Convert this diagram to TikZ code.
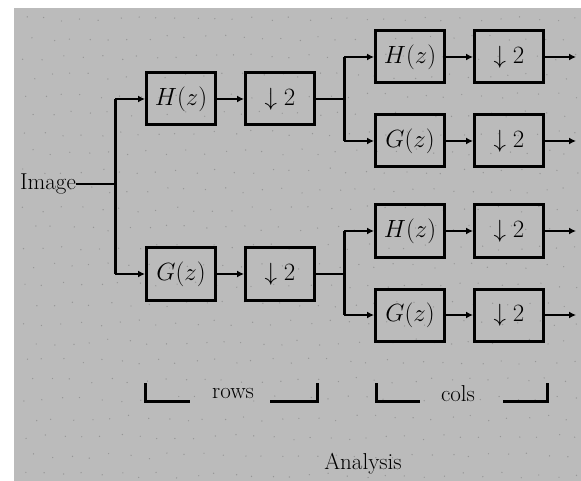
\documentclass[tikz,border=0pt]{standalone}
\usetikzlibrary{arrows.meta}
\definecolor{bggray}{RGB}{187,187,187}
\definecolor{dotgray}{RGB}{150,150,150}
\begin{document}
\begin{tikzpicture}[x=1pt,y=-1pt,
  blk/.style={draw, line width=3pt, minimum width=69pt, minimum height=52pt, inner sep=0pt, font=\fontsize{23}{26}\selectfont},
  lbl/.style={inner sep=0pt, font=\fontsize{23}{26}\selectfont},
  bus/.style={line width=3pt},
  conn/.style={line width=1.8pt},
  arr/.style={line width=1.8pt, -{Latex[length=7pt,width=7pt]}},
  brk/.style={line width=3pt}]
\useasboundingbox (0,0) rectangle (581,481);
\fill[white] (0,0) rectangle (581,481);
\fill[bggray] (14,8) rectangle (581,481);
\pgfmathsetseed{7}
\foreach \i in {0,...,29} {
  \foreach \j in {0,...,24} {
    \pgfmathsetmacro{\px}{22+\i*19+mod(\j,2)*9+rnd*6}
    \pgfmathsetmacro{\py}{16+\j*19+rnd*6}
    \fill[dotgray] (\px,\py) circle (0.7);
  }
}
% first stage (rows)
\node[lbl] (img) at (48,184) {Image};
\coordinate (s1) at (115,184);
\node[blk] (H1) at (181,99) {$H(z)$};
\node[blk] (D1) at (280,99) {$\downarrow 2$};
\node[blk] (G1) at (181,274) {$G(z)$};
\node[blk] (D2) at (280,274) {$\downarrow 2$};
\draw[conn] (img.east) -- (s1);
\draw[bus] (s1 |- H1) -- (s1 |- G1);
\draw[arr] (s1 |- H1) -- (H1.west);
\draw[arr] (s1 |- G1) -- (G1.west);
\draw[arr] (H1.east) -- (D1.west);
\draw[arr] (G1.east) -- (D2.west);
% second stage (cols), top
\coordinate (s2) at (344,99);
\node[blk] (H2) at (410,57) {$H(z)$};
\node[blk] (D3) at (509,57) {$\downarrow 2$};
\node[blk] (G2) at (410,141) {$G(z)$};
\node[blk] (D4) at (509,141) {$\downarrow 2$};
\draw[conn] (D1.east) -- (s2);
\draw[bus] (s2 |- H2) -- (s2 |- G2);
\draw[arr] (s2 |- H2) -- (H2.west);
\draw[arr] (s2 |- G2) -- (G2.west);
\draw[arr] (H2.east) -- (D3.west);
\draw[arr] (G2.east) -- (D4.west);
\coordinate (o1) at (576,57);
\coordinate (o2) at (576,141);
\draw[arr] (D3.east) -- (o1);
\draw[arr] (D4.east) -- (o2);
% second stage (cols), bottom
\coordinate (s3) at (344,274);
\node[blk] (H3) at (410,231) {$H(z)$};
\node[blk] (D5) at (509,231) {$\downarrow 2$};
\node[blk] (G3) at (410,315) {$G(z)$};
\node[blk] (D6) at (509,315) {$\downarrow 2$};
\draw[conn] (D2.east) -- (s3);
\draw[bus] (s3 |- H3) -- (s3 |- G3);
\draw[arr] (s3 |- H3) -- (H3.west);
\draw[arr] (s3 |- G3) -- (G3.west);
\draw[arr] (H3.east) -- (D5.west);
\draw[arr] (G3.east) -- (D6.west);
\coordinate (o3) at (576,231);
\coordinate (o4) at (576,315);
\draw[arr] (D5.east) -- (o3);
\draw[arr] (D6.east) -- (o4);
% brackets
\draw[brk] (145,383) -- (145,401) -- (190,401);
\node[lbl] (rows) at (233,394) {rows};
\draw[brk] (270,401) -- (317,401) -- (317,383);
\draw[brk] (376,383) -- (376,401) -- (420,401);
\node[lbl] (cols) at (458,394) {cols};
\draw[brk] (503,401) -- (547,401) -- (547,383);
\node[lbl] (ana) at (363,464) {Analysis};
\end{tikzpicture}
\end{document}
